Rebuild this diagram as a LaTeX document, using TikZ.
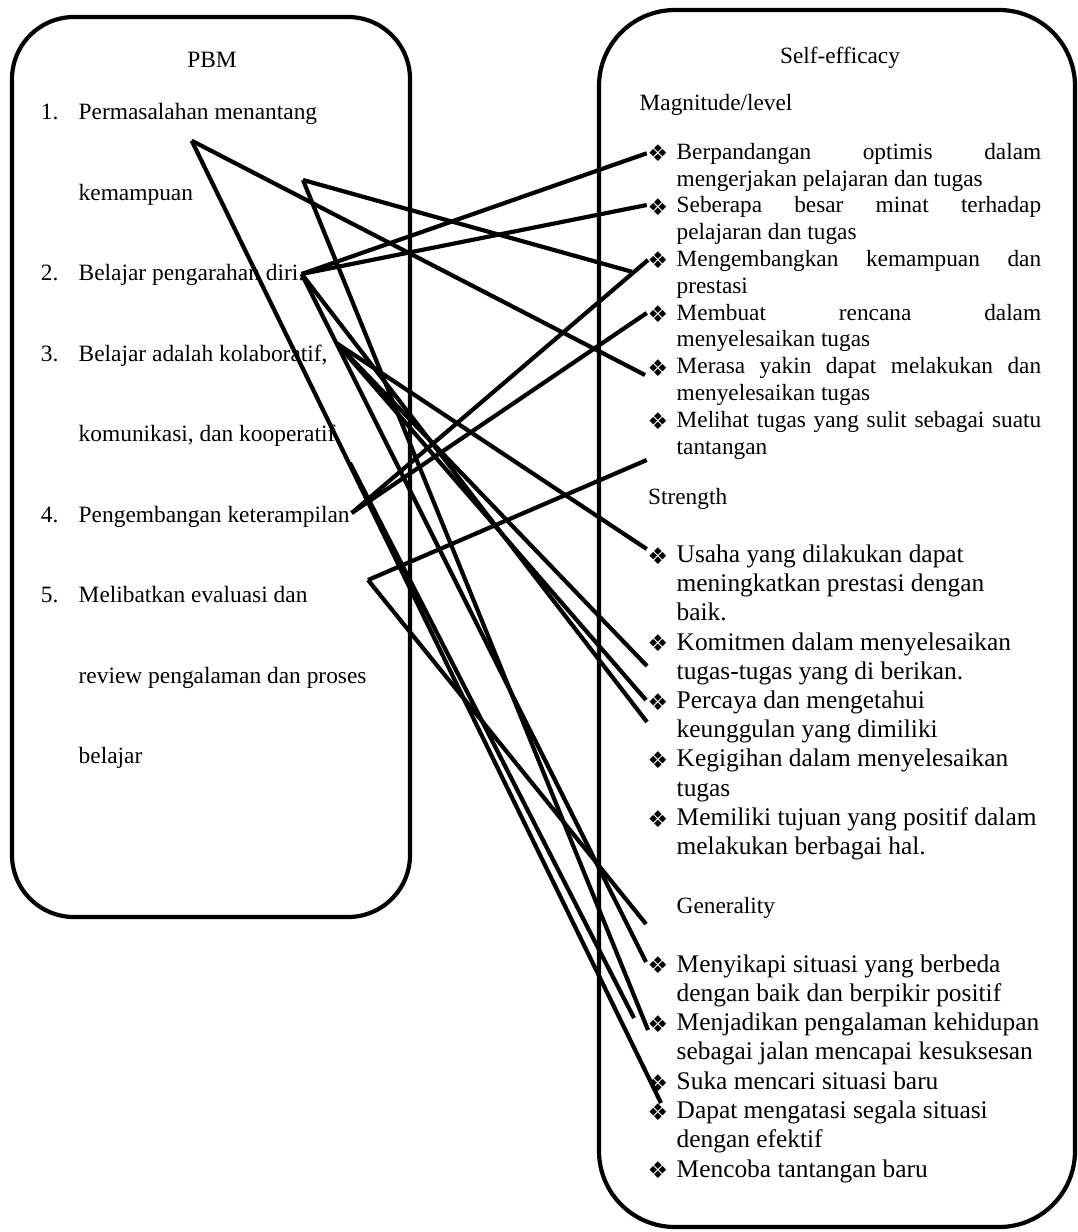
\documentclass[tikz,border=0pt]{standalone}
\usepackage{fontspec}
\setmainfont{Liberation Serif}
\newfontfamily\bulfont{DejaVu Sans}
\begin{document}
\begin{tikzpicture}[x=1pt,y=-1pt,
  box/.style={draw, line width=4.2pt},
  conn/.style={line width=4.2pt},
  ltxt/.style={anchor=base west, inner sep=0pt, font=\fontsize{23.4}{28}\selectfont},
  mtxt/.style={anchor=base west, inner sep=0pt, font=\fontsize{23.3}{27}\selectfont},
  stxt/.style={anchor=base west, inner sep=0pt, font=\fontsize{25.4}{29}\selectfont},
  htxt/.style={anchor=base west, inner sep=0pt, font=\fontsize{23.3}{27}\selectfont},
  bul/.style={inner sep=0pt, font=\bulfont\fontsize{23}{23}\selectfont}]
\useasboundingbox (0,0) rectangle (1078,1232);
% boxes
\draw[box, rounded corners=62pt] (12,17) rectangle (410,917);
\draw[box, rounded corners=76pt] (599,10) rectangle (1075,1227);
% left box texts
\node[anchor=base, inner sep=0pt, font=\fontsize{23.4}{28}\selectfont] (pbm) at (212,67) {PBM};
\node[ltxt] (n1) at (40.6,119.5) {1.};
\node[ltxt] (t1a) at (78.5,119.5) {Permasalahan menantang};
\node[ltxt] (t1b) at (78.5,200) {kemampuan};
\node[ltxt] (n2) at (40.6,280.5) {2.};
\node[ltxt] (t2) at (78.5,280.5) {Belajar pengarahan diri.};
\node[ltxt] (n3) at (40.6,361) {3.};
\node[ltxt] (t3a) at (78.5,361) {Belajar adalah kolaboratif,};
\node[ltxt] (t3b) at (78.5,441.5) {komunikasi, dan kooperatif};
\node[ltxt] (n4) at (40.6,522) {4.};
\node[ltxt] (t4) at (78.5,522) {Pengembangan keterampilan};
\node[ltxt] (n5) at (40.6,602.5) {5.};
\node[ltxt] (t5a) at (78.5,602.5) {Melibatkan evaluasi dan};
\node[ltxt] (t5b) at (78.5,683) {review pengalaman dan proses};
\node[ltxt] (t5c) at (78.5,763.5) {belajar};
% right box headings
\node[anchor=base, inner sep=0pt, font=\fontsize{23.3}{27}\selectfont] (se) at (840,63.3) {Self-efficacy};
\node[htxt] (hm) at (639.5,110.5) {Magnitude/level};
\node[htxt] (hs) at (648,504) {Strength};
\node[htxt] (hg) at (676.5,913.5) {Generality};
% magnitude items
\node[bul] (bm1) at (658,153.3) {❖};
\node[mtxt] (m1a) at (676.5,159.3) {\makebox[364.5pt][s]{Berpandangan optimis dalam}};
\node[mtxt] (m1b) at (676.5,186.1) {mengerjakan pelajaran dan tugas};
\node[bul] (bm2) at (658,206.9) {❖};
\node[mtxt] (m2a) at (676.5,212.9) {\makebox[364.5pt][s]{Seberapa besar minat terhadap}};
\node[mtxt] (m2b) at (676.5,239.7) {pelajaran dan tugas};
\node[bul] (bm3) at (658,260.5) {❖};
\node[mtxt] (m3a) at (676.5,266.5) {\makebox[364.5pt][s]{Mengembangkan kemampuan dan}};
\node[mtxt] (m3b) at (676.5,293.3) {prestasi};
\node[bul] (bm4) at (658,314.1) {❖};
\node[mtxt] (m4a) at (676.5,320.1) {\makebox[364.5pt][s]{Membuat rencana dalam}};
\node[mtxt] (m4b) at (676.5,346.9) {menyelesaikan tugas};
\node[bul] (bm5) at (658,367.7) {❖};
\node[mtxt] (m5a) at (676.5,373.7) {\makebox[364.5pt][s]{Merasa yakin dapat melakukan dan}};
\node[mtxt] (m5b) at (676.5,400.5) {menyelesaikan tugas};
\node[bul] (bm6) at (658,421.3) {❖};
\node[mtxt] (m6a) at (676.5,427.3) {\makebox[364.5pt][s]{Melihat tugas yang sulit sebagai suatu}};
\node[mtxt] (m6b) at (676.5,454.1) {tantangan};
% strength items
\node[bul] (bs1) at (658,556) {❖};
\node[stxt] (s1a) at (676.5,562.5) {Usaha yang dilakukan dapat};
\node[stxt] (s1b) at (676.5,591.7) {meningkatkan prestasi dengan};
\node[stxt] (s1c) at (676.5,620.9) {baik.};
\node[bul] (bs2) at (658,643.6) {❖};
\node[stxt] (s2a) at (676.5,650.1) {Komitmen dalam menyelesaikan};
\node[stxt] (s2b) at (676.5,679.3) {tugas-tugas yang di berikan.};
\node[bul] (bs3) at (658,702) {❖};
\node[stxt] (s3a) at (676.5,708.5) {Percaya dan mengetahui};
\node[stxt] (s3b) at (676.5,737.7) {keunggulan yang dimiliki};
\node[bul] (bs4) at (658,760.4) {❖};
\node[stxt] (s4a) at (676.5,766.9) {Kegigihan dalam menyelesaikan};
\node[stxt] (s4b) at (676.5,796.1) {tugas};
\node[bul] (bs5) at (658,818.8) {❖};
\node[stxt] (s5a) at (676.5,825.3) {Memiliki tujuan yang positif dalam};
\node[stxt] (s5b) at (676.5,854.5) {melakukan berbagai hal.};
% generality items
\node[bul] (bg1) at (658,965.5) {❖};
\node[stxt] (g1a) at (676.5,972) {Menyikapi situasi yang berbeda};
\node[stxt] (g1b) at (676.5,1001.3) {dengan baik dan berpikir positif};
\node[bul] (bg2) at (658,1024.1) {❖};
\node[stxt] (g2a) at (676.5,1030.6) {Menjadikan pengalaman kehidupan};
\node[stxt] (g2b) at (676.5,1059.9) {sebagai jalan mencapai kesuksesan};
\node[bul] (bg3) at (658,1082.7) {❖};
\node[stxt] (g3) at (676.5,1089.2) {Suka mencari situasi baru};
\node[bul] (bg4) at (658,1112) {❖};
\node[stxt] (g4a) at (676.5,1118.5) {Dapat mengatasi segala situasi};
\node[stxt] (g4b) at (676.5,1147.8) {dengan efektif};
\node[bul] (bg5) at (658,1170.6) {❖};
\node[stxt] (g5) at (676.5,1177.1) {Mencoba tantangan baru};
% connector end points
\coordinate (pA) at (191.7,140.7);
\coordinate (pB) at (303,180);
\coordinate (pC) at (301.7,274);
\coordinate (pD) at (336.7,343.3);
\coordinate (pE) at (350,463);
\coordinate (pF) at (351.7,513);
\coordinate (pG) at (368,580);
\coordinate (r1) at (646.7,153.3);
\coordinate (r2) at (646.7,205);
\coordinate (r3) at (648,260);
\coordinate (r3a) at (631.7,271.7);
\coordinate (r4) at (646.7,313);
\coordinate (r5) at (645,375);
\coordinate (r6) at (646.7,460);
\coordinate (r7) at (646.7,549);
\coordinate (r8) at (647,666);
\coordinate (r9) at (646,700);
\coordinate (r10) at (647,722);
\coordinate (r11) at (646,924);
\coordinate (r12) at (646,962);
\coordinate (r13) at (634,1018);
\coordinate (r14) at (648,1030);
\coordinate (r15) at (661,1103);
% connectors
\draw[conn] (pA) -- (r5);
\draw[conn] (pA) -- (r15);
\draw[conn] (pB) -- (r3a);
\draw[conn] (pB) -- (r14);
\draw[conn] (pC) -- (r1);
\draw[conn] (pC) -- (r2);
\draw[conn] (pC) -- (r12);
\draw[conn] (pC) -- (r10);
\draw[conn] (pD) -- (r7);
\draw[conn] (pD) -- (r8);
\draw[conn] (pD) -- (r9);
\draw[conn] (pE) -- (r13);
\draw[conn] (pF) -- (r3);
\draw[conn] (pF) -- (r4);
\draw[conn] (pG) -- (r6);
\draw[conn] (pG) -- (r11);
\end{tikzpicture}
\end{document}
